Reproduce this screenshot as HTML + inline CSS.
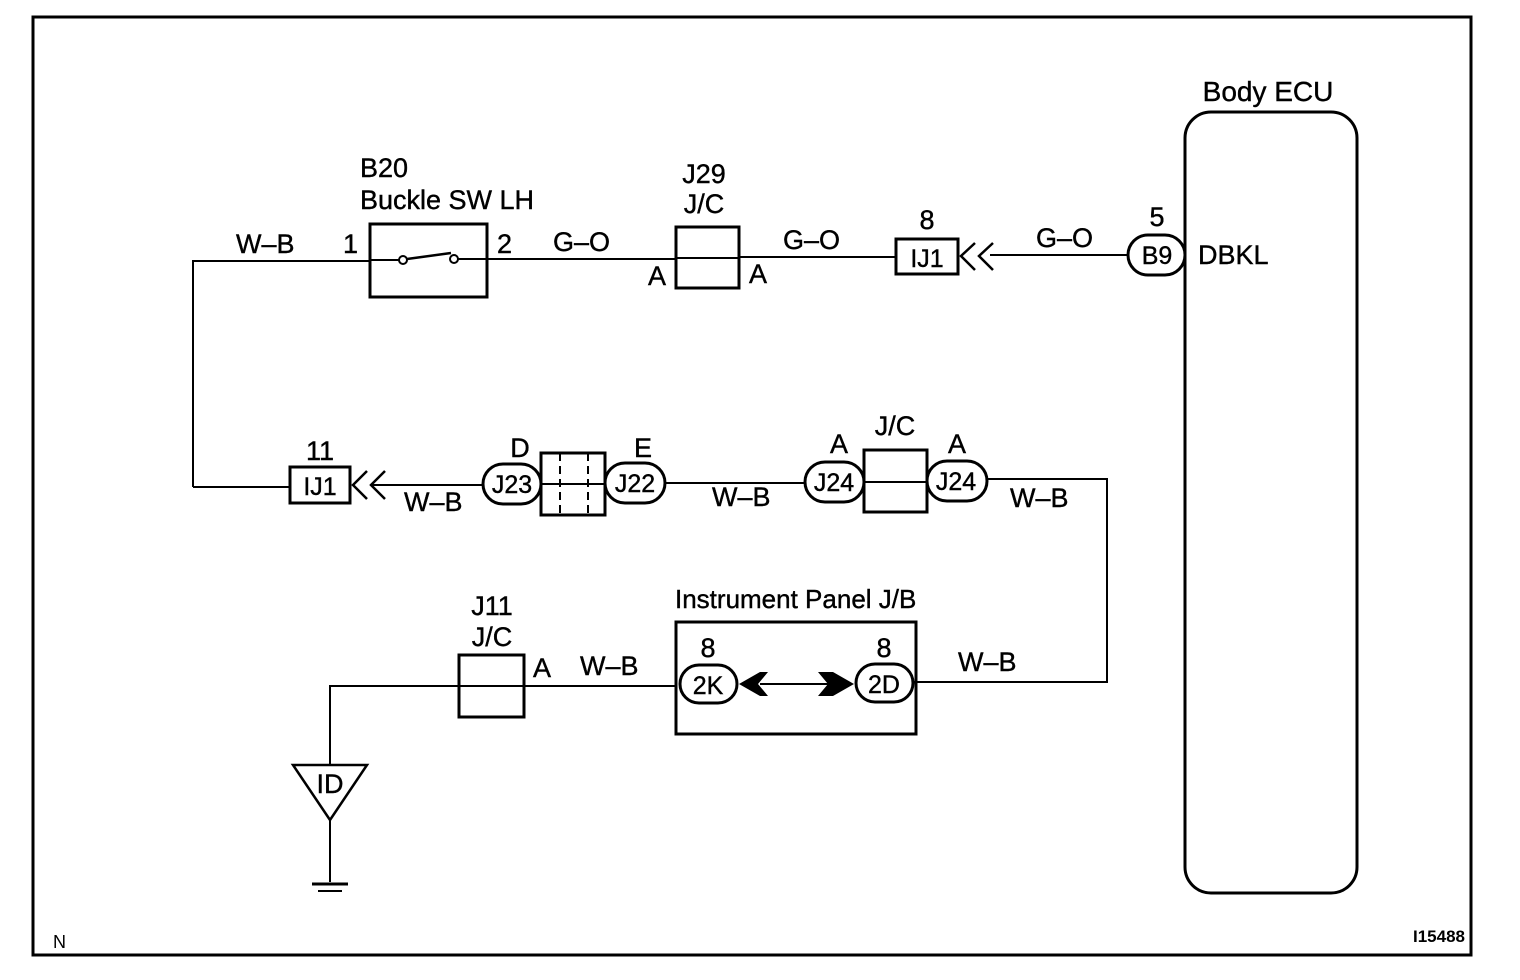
<!DOCTYPE html>
<html><head><meta charset="utf-8"><style>
html,body{margin:0;padding:0;background:#fff}
svg{display:block}
text{font-family:"Liberation Sans",sans-serif;fill:#000}
</style></head><body>
<svg width="1520" height="980" viewBox="0 0 1520 980" xmlns="http://www.w3.org/2000/svg">
<g fill="none" stroke="#000">
<path d="M33 955 V17 H1471 V955 Z" stroke-width="3"/>
<rect x="1185" y="112" width="172" height="781" rx="26" stroke-width="3"/>
<path d="M193 487 V261 H370" stroke-width="2"/>
<path d="M487 259 H676" stroke-width="2"/>
<path d="M739 257 H896" stroke-width="2"/>
<path d="M990 255 H1128" stroke-width="2"/>
<rect x="370" y="224" width="117" height="73" stroke-width="3"/>
<path d="M370 260 H399 M457 259 H487" stroke-width="2"/>
<circle cx="403" cy="260" r="4" stroke-width="2"/>
<circle cx="454" cy="259" r="4" stroke-width="2"/>
<path d="M407 259 L451 253" stroke-width="2.5"/>
<rect x="676" y="227" width="63" height="61" stroke-width="3"/>
<path d="M676 258 H739" stroke-width="2"/>
<rect x="896" y="239" width="62" height="35" stroke-width="3"/>
<path d="M975 243 L961 256 L975 270 M993 243 L979 256 L993 270" stroke-width="2.5"/>
<rect x="1128" y="235" width="57" height="40" rx="20" stroke-width="3"/>
<path d="M193 487 H290" stroke-width="2"/>
<rect x="290" y="467" width="60" height="36" stroke-width="3"/>
<path d="M367 471 L353 485 L367 499 M385 471 L371 485 L385 499" stroke-width="2.5"/>
<path d="M371 485 H483" stroke-width="2"/>
<rect x="483" y="464" width="58" height="40" rx="20" stroke-width="3"/>
<rect x="541" y="453" width="64" height="62" stroke-width="3"/>
<path d="M541 484 H605" stroke-width="2"/>
<path d="M560 453 V515 M588 453 V515" stroke-width="2" stroke-dasharray="8 5"/>
<rect x="605" y="463" width="60" height="40" rx="20" stroke-width="3"/>
<path d="M665 483 H805" stroke-width="2"/>
<rect x="805" y="462" width="59" height="40" rx="20" stroke-width="3"/>
<rect x="864" y="450" width="63" height="62" stroke-width="3"/>
<path d="M864 482 H927" stroke-width="2"/>
<rect x="927" y="461" width="60" height="40" rx="20" stroke-width="3"/>
<path d="M987 479 H1107 V682 H913" stroke-width="2"/>
<rect x="676" y="622" width="240" height="112" stroke-width="3"/>
<rect x="680" y="665" width="57" height="38" rx="19" stroke-width="3"/>
<rect x="856" y="664" width="57" height="38" rx="19" stroke-width="3"/>
<path d="M760 684 H838" stroke-width="2"/>
<path d="M676 686 H330 V765" stroke-width="2"/>
<rect x="459" y="655" width="65" height="62" stroke-width="3"/>
<path d="M293 765 H367 L330 820 Z" stroke-width="2.5"/>
<path d="M330 820 V882" stroke-width="2"/>
<path d="M312 884 H348" stroke-width="3"/>
<path d="M318 891 H342" stroke-width="2"/>
</g>
<path d="M739 684 L760 672 L768 672 L758 684 L768 696 L760 696 Z" fill="#000"/>
<path d="M854 684 L833 672 L818 672 L828 684 L818 696 L833 696 Z" fill="#000"/>
<g font-size="27" stroke="#000" stroke-width="0.4">
<text x="1268" y="101" text-anchor="middle" font-size="28">Body ECU</text>
<text x="360" y="177">B20</text>
<text x="360" y="209">Buckle SW LH</text>
<text x="704" y="183" text-anchor="middle">J29</text>
<text x="704" y="213" text-anchor="middle">J/C</text>
<text x="236" y="253">W–B</text>
<text x="343" y="253">1</text>
<text x="497" y="253">2</text>
<text x="553" y="251">G–O</text>
<text x="648" y="285">A</text>
<text x="749" y="283">A</text>
<text x="783" y="249">G–O</text>
<text x="927" y="229" text-anchor="middle">8</text>
<text x="927" y="267" text-anchor="middle" font-size="25">IJ1</text>
<text x="1036" y="247">G–O</text>
<text x="1157" y="226" text-anchor="middle">5</text>
<text x="1157" y="264" text-anchor="middle" font-size="25">B9</text>
<text x="1198" y="264">DBKL</text>
<text x="320" y="460" text-anchor="middle">11</text>
<text x="320" y="495" text-anchor="middle" font-size="25">IJ1</text>
<text x="404" y="511">W–B</text>
<text x="520" y="457" text-anchor="middle">D</text>
<text x="512" y="493" text-anchor="middle" font-size="25">J23</text>
<text x="643" y="457" text-anchor="middle">E</text>
<text x="635" y="492" text-anchor="middle" font-size="25">J22</text>
<text x="712" y="506">W–B</text>
<text x="839" y="453" text-anchor="middle">A</text>
<text x="834" y="491" text-anchor="middle" font-size="25">J24</text>
<text x="895" y="435" text-anchor="middle">J/C</text>
<text x="957" y="453" text-anchor="middle">A</text>
<text x="956" y="490" text-anchor="middle" font-size="25">J24</text>
<text x="1010" y="507">W–B</text>
<text x="492" y="615" text-anchor="middle">J11</text>
<text x="492" y="646" text-anchor="middle">J/C</text>
<text x="533" y="677">A</text>
<text x="580" y="675">W–B</text>
<text x="675" y="608" font-size="26">Instrument Panel J/B</text>
<text x="708" y="657" text-anchor="middle">8</text>
<text x="708" y="694" text-anchor="middle" font-size="25">2K</text>
<text x="884" y="657" text-anchor="middle">8</text>
<text x="884" y="693" text-anchor="middle" font-size="25">2D</text>
<text x="958" y="671">W–B</text>
<text x="330" y="793" text-anchor="middle">ID</text>
<text x="53" y="948" font-size="18" stroke-width="0">N</text>
<text x="1413" y="942" font-size="17" font-weight="bold" stroke-width="0">I15488</text>
</g>
</svg>
</body></html>
